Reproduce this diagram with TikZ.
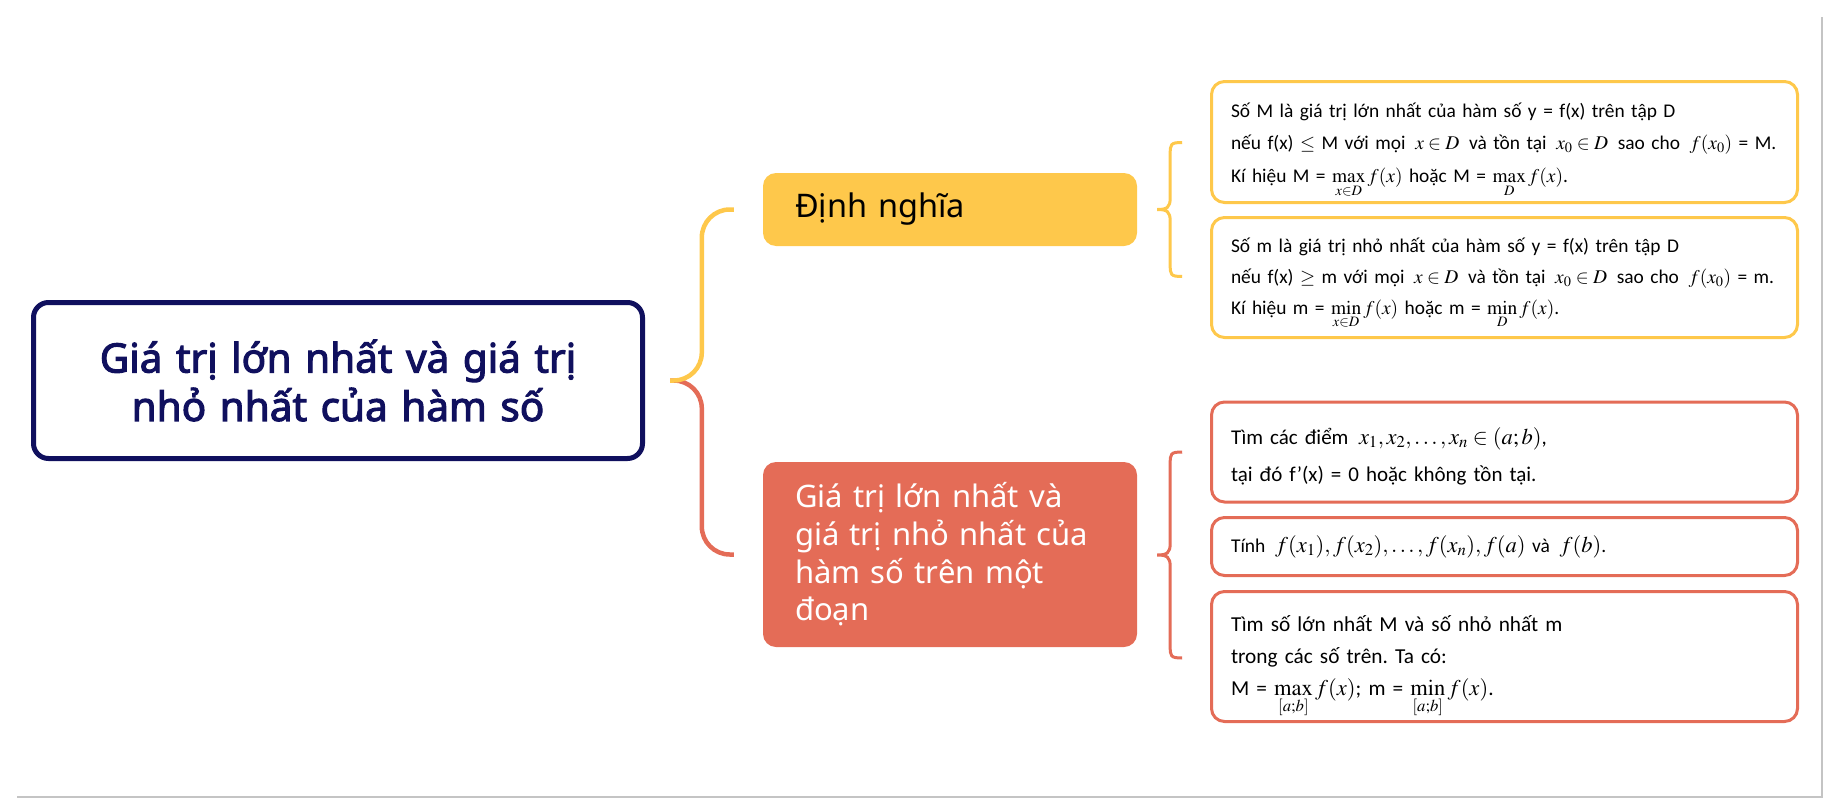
\documentclass[tikz,border=0pt]{standalone}
\usepackage{mathptmx}
\usepackage[no-math]{fontspec}
\setmainfont{Carlito}
\newfontfamily\mont{Noto Sans}
\newfontfamily\montb{Noto Sans}[FakeBold=2.6]
\usetikzlibrary{calc}
\definecolor{navy}{HTML}{10105E}
\definecolor{ylw}{HTML}{FEC84B}
\definecolor{rd}{HTML}{E46C57}
\definecolor{framegrey}{HTML}{C4C4C4}
\frenchspacing
\newcommand{\mathbig}[1]{{\fontsize{22.5}{30}\selectfont$#1$}}
\begin{document}
\begin{tikzpicture}[x=1pt,y=-1pt,
  mainbox/.style={draw=navy, line width=5pt, rounded corners=15pt, fill=white,
    minimum width=609pt, minimum height=156pt, text width=590pt, align=center,
    inner sep=0pt, text=navy, font=\montb\fontsize{40.5}{48.5}\selectfont},
  catbox/.style={rounded corners=13pt, text width=310pt, inner xsep=32pt, inner ysep=0pt,
    align=left},
  infobox/.style={line width=3pt, rounded corners=13pt, fill=white, text width=547pt,
    inner xsep=19.5pt, inner ysep=0pt, align=left, text=black},
  branch/.style={line width=4.5pt, rounded corners=28pt},
  bracestroke/.style={line width=3pt}
]
\useasboundingbox (0,0) rectangle (1833,808);
\draw[framegrey, line width=2pt] (17,797) -- (1822,797) -- (1822,17);

\node[mainbox] (main) at (338,380.5) {Giá trị lớn nhất và giá trị\\nhỏ nhất của hàm số};

\node[catbox, fill=ylw, minimum height=73pt, font=\mont\fontsize{32.5}{38}\selectfont] (def) at (950,209.5) {Định nghĩa};
\node[catbox, fill=rd, minimum height=185pt, text=white, font=\mont\fontsize{31}{37.7}\selectfont] (seg) at (950,554.5)
  {Giá trị lớn nhất và\\giá trị nhỏ nhất của\\hàm số trên một\\đoạn};

\node[infobox, draw=ylw, minimum height=121pt, font=\fontsize{19.4}{32.5}\selectfont] (y1) at (1504.5,142)
  {\mbox{\rule{0pt}{19pt}Số M là giá trị lớn nhất của hàm số y = f(x) trên tập D}\\
   \mbox{nếu f(x) $\le$ M với mọi\, $x\in D$\, và tồn tại\, $x_0\in D$\, sao cho\, $f(x_0)$ = M.}\\
   \mbox{Kí hiệu M = \smash{$\max\limits_{x\in D} f(x)$} hoặc M = \smash{$\max\limits_{D} f(x)$}.}};
\node[infobox, draw=ylw, minimum height=120pt, font=\fontsize{19.4}{31}\selectfont] (y2) at (1504.5,277.5)
  {\mbox{Số m là giá trị nhỏ nhất của hàm số y = f(x) trên tập D}\\
   \mbox{nếu f(x) $\ge$ m với mọi\, $x\in D$\, và tồn tại\, $x_0\in D$\, sao cho\, $f(x_0)$ = m.}\\
   \mbox{Kí hiệu m = \smash{$\min\limits_{x\in D} f(x)$} hoặc m = \smash{$\min\limits_{D} f(x)$}.}};

\node[infobox, draw=rd, minimum height=100pt, font=\fontsize{21}{37.5}\selectfont] (r1) at (1504.5,452)
  {\rule{0pt}{26pt}Tìm các điểm\, \mathbig{x_1,x_2,\ldots,x_n\in(a;b)},\\tại đó f’(x) = 0 hoặc không tồn tại.};
\node[infobox, draw=rd, minimum height=58pt, font=\fontsize{19.5}{30}\selectfont] (r2) at (1504.5,546.5)
  {Tính\, \mathbig{f(x_1),f(x_2),\ldots,f(x_n),f(a)} và\, \mathbig{f(b)}.};
\node[infobox, draw=rd, minimum height=130pt, font=\fontsize{21.3}{32}\selectfont] (r3) at (1504.5,656.5)
  {Tìm số lớn nhất M và số nhỏ nhất m\\trong các số trên. Ta có:\\
   M = \smash{\mathbig{\max\limits_{[a;b]} f(x)}}; m = \smash{\mathbig{\min\limits_{[a;b]} f(x)}}.};

% branches from the central topic
\draw[branch, rd] ($(main.east)+(25,0)$) -| ($(seg.west)+(-61,0)$) -- ($(seg.west)+(-29,0)$);
\draw[branch, ylw] ($(main.east)+(25,0)$) -| ($(def.west)+(-61,0)$) -- ($(def.west)+(-29,0)$);

% curly braces to the detail boxes
\coordinate (yt) at ($(def.east)+(20,0)$);
\coordinate (rt) at ($(seg.east)+(20,0.5)$);
\draw[bracestroke, ylw] (yt) ++(25,-67) .. controls +(-12,0) and +(0,-10) .. ++(-12,12)
  -- ++(0,43) .. controls +(0,10) and +(10,0) .. ++(-13,12)
  .. controls +(10,0) and +(0,-10) .. ++(13,12)
  -- ++(0,43) .. controls +(0,10) and +(-12,0) .. ++(12,12);
\draw[bracestroke, rd] (rt) ++(25,-103) .. controls +(-12,0) and +(0,-10) .. ++(-12,12)
  -- ++(0,79) .. controls +(0,10) and +(10,0) .. ++(-13,12)
  .. controls +(10,0) and +(0,-10) .. ++(13,12)
  -- ++(0,79) .. controls +(0,10) and +(-12,0) .. ++(12,12);
\end{tikzpicture}
\end{document}
